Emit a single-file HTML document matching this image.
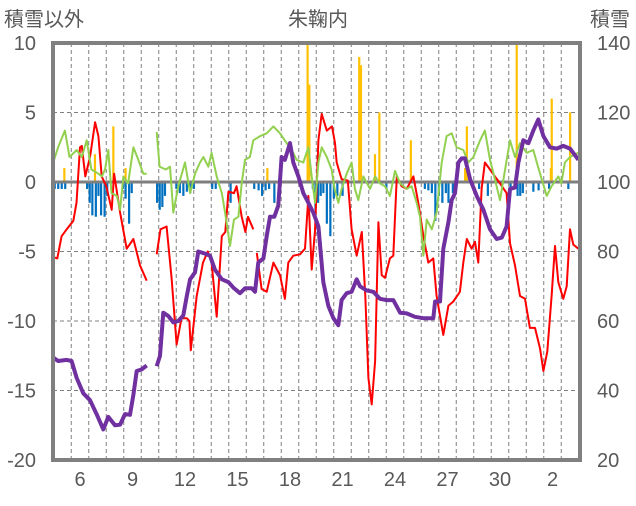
<!DOCTYPE html>
<html><head><meta charset="utf-8"><style>
body{margin:0;background:#fff;width:636px;height:501px;overflow:hidden}
svg text{font-family:"Liberation Sans","Noto Sans CJK JP",sans-serif;fill:#595959}
</style></head><body>
<svg id="c" width="636" height="501"></svg>
<script>
const redT=[4.47,4.7,4.95,5.24,5.62,5.8,6,6.1,6.3,6.57,6.86,7.05,7.24,7.5,7.81,7.95,8.29,8.67,9.05,9.43,9.81,null,10.38,10.6,10.95,11.24,11.52,11.8,12.1,12.25,12.33,12.67,13.03,13.3,13.52,13.81,14.1,14.3,14.48,14.8,14.95,15.24,15.45,15.6,15.9,null,16.1,16.38,16.67,17.05,17.43,17.71,17.9,18.19,18.57,18.86,19.05,19.24,19.43,19.62,19.81,20.1,20.4,20.57,20.67,20.95,21.3,21.52,21.81,22.1,22.3,22.48,22.67,22.86,23.05,23.24,23.43,23.71,23.9,24.1,24.38,24.67,25.05,25.33,25.62,25.9,26.19,26.38,26.76,27.05,27.33,27.71,27.9,28.1,28.38,28.57,28.76,28.95,29.14,29.43,29.71,30,30.38,30.57,30.86,31.14,31.43,31.71,32,32.29,32.48,32.7,32.95,33.14,33.33,33.62,33.81,34,34.19,34.48];
const redV=[-5.4,-5.5,-3.9,-3.4,-2.8,-1.5,2.5,2.6,0.4,1.8,4.3,3.3,0.4,-0.3,-2,0.6,-2.2,-4.8,-4.1,-6,-7.1,null,-5.2,-3.4,-3.2,-7,-11.7,-9.8,-9.8,-10,-12.1,-8.2,-5.8,-5,-5.8,-9.7,-3.9,-3.6,-0.7,-0.8,-0.3,-2.5,-3.6,-2.5,-3.4,null,-5.1,-7.7,-7.9,-5.8,-6.7,-8.4,-5.8,-5.3,-5.2,-4.8,-1,-6.3,-3.5,3,4.9,3.7,4,2.8,1.4,0.2,0.1,-3.4,-5.3,-3.6,-8.2,-14.1,-16,-12.9,-2.9,-6.7,-6.9,-5.5,-5.3,0.4,-0.3,-0.5,0.4,-1.5,-3.9,-5.8,-5.5,-8.2,-11,-8.9,-8.6,-7.9,-5.8,-4.1,-4.8,-4.3,-5.8,-0.5,1.4,0.9,0.4,-0.1,-0.8,-4.4,-6,-8.2,-8.4,-10.5,-10.5,-12,-13.6,-12.2,-8.2,-4.6,-7.2,-8.4,-7.5,-3.4,-4.5,-4.8];
const greenT=[4.47,4.75,5.14,5.4,5.81,6.1,6.38,6.65,7.05,7.25,7.43,7.62,7.8,8.1,8.29,8.48,8.75,9.05,9.33,9.62,9.81,null,10.38,10.55,10.9,11.14,11.33,11.62,12,12.29,12.57,12.86,13.05,13.33,13.52,13.81,14.1,14.29,14.57,14.8,15.05,15.24,15.43,15.71,15.9,16.29,16.67,17.05,17.43,17.81,18.1,18.38,18.76,19.05,19.24,19.43,19.62,19.81,20.1,20.38,20.55,20.76,20.95,21.24,21.52,21.71,21.9,22.19,22.57,22.86,23.14,23.43,23.71,24,24.29,24.67,24.95,25.24,25.43,25.62,25.81,26.1,26.38,26.67,26.95,27.24,27.52,27.9,28.19,28.48,28.86,29.14,29.43,29.71,30,30.29,30.57,30.86,31.14,31.52,31.9,32.1,32.38,32.67,32.95,33.33,33.5,33.71,34,34.48];
const greenV=[1.4,2.5,3.7,1.8,2.3,1.8,3,0.9,0.6,0.4,0.9,2.3,-0.8,-1,-2,0.4,-0.1,2.5,1.6,0.6,0.6,null,3.6,1.1,0.9,1.1,-2.2,-0.3,1.4,-0.8,0.6,1.4,1.8,1.1,2.1,0.4,-0.8,-2.2,-4.6,-2.7,-2.5,-0.1,1.6,1.8,3,3.3,3.5,4,3.5,2.8,2.3,1.6,1.4,2.5,0.4,-1.5,1.4,2.5,1.8,0.9,-0.5,-1.5,-0.5,0.6,1.4,-0.5,-1.3,0.4,-0.5,0.4,-0.1,-0.3,-1,0.8,-0.1,-0.5,-0.3,-1.5,-2.5,-5.3,-2.7,-3.4,-2.2,1.4,3.3,3.5,2.5,2.3,1.4,1.8,3,3.7,1.6,0.2,-1.3,0.9,3,1.8,2.8,2.1,2.3,1.4,0.2,-1,-0.3,0.4,-0.1,1.4,1.8,2.1];
const snowT=[4.47,4.75,5.24,5.52,5.81,6.19,6.57,6.95,7.33,7.62,8,8.29,8.57,8.86,9.05,9.24,9.5,9.81,null,10.38,10.57,10.76,11.05,11.33,11.62,11.9,12.1,12.29,12.57,12.76,13.14,13.43,13.71,14.1,14.48,14.76,15.14,15.43,15.81,16,16.19,16.48,16.67,16.86,17.1,17.33,17.52,17.71,18,18.19,18.48,18.76,19.05,19.33,19.62,19.9,20.19,20.48,20.76,20.95,21.24,21.52,21.81,22,22.38,22.76,23.14,23.52,23.9,24.29,24.67,25.14,25.62,26.19,26.29,26.57,26.76,27.05,27.24,27.43,27.62,27.81,28,28.29,28.67,29.05,29.43,29.81,30.1,30.38,30.57,30.86,31.05,31.33,31.62,31.9,32.19,32.48,32.86,33.24,33.62,34,34.48];
const snowV=[49.5,48.5,48.8,48.5,43.6,39.2,37.2,33.2,28.8,32.4,30,30.2,33.2,33,38.8,45.6,46,47.2,null,47,50,62.4,61.4,59.6,60,61.6,67.2,72,74,80,79.4,78.8,74.8,72,71.2,69.6,68,69.4,69.4,68.4,76.8,78,84.4,90,90,93.2,107.2,106.4,111.2,105.6,101.6,96.8,94,91.2,87.2,71.2,64.4,60.8,58.8,66,68,68.4,72,70,68.8,68.4,66.4,66,66,62.4,62.2,61.2,60.8,60.8,65.6,65.6,80.8,88.4,94.8,96.8,105.6,106.8,106.8,100.8,96,92,86.4,83.6,84,87.2,98,98.4,105.6,112,111.2,114.8,118,113.2,110,109.6,110.4,109.6,106.4];
const blueT=[4.55,4.75,4.95,5.15,6.4,6.55,6.7,6.9,7.05,7.2,7.4,7.55,8.45,8.6,8.8,8.95,10.4,10.55,10.7,10.85,11.5,11.7,11.9,12.1,12.3,12.5,13.55,13.75,14.6,15.95,16.2,16.4,16.6,16.8,17.1,19.3,19.45,19.6,19.75,19.9,20.1,20.3,20.5,20.7,21,23.5,25.7,25.9,26.1,26.3,26.5,26.7,26.9,27.05,27.3,28.8,29.3,30.6,31,31.15,31.3,31.9,32.2,32.8,33.9];
const blueV=[-0.5,-0.5,-0.5,-0.5,-0.5,-1.5,-2.4,-2.5,-1,-2.4,-2.5,-1,-0.5,-1.2,-3,-0.8,-1.5,-2,-1.8,-1,-0.5,-0.8,-1,-0.7,-0.8,-0.5,-0.5,-0.5,-1.5,-0.5,-0.6,-1,-0.6,-0.5,-1.5,-0.5,-2,-1.5,-1,-0.8,-3,-3.9,-1.2,-1,-1,-0.5,-0.5,-0.6,-0.8,-2.8,-1,-1.5,-0.8,-1.5,-0.8,-0.5,-1,-0.5,-1,-1,-0.8,-0.7,-0.6,-0.5,-0.5];
const orangeT=[5.1,6.85,7.9,8.6,16.7,19,19.1,21.95,22.05,22.85,23.1,24.9,28,28.1,30.95,32.9,32.95,34];
const orangeV=[1,2,4,1,1,10,7,9,8.4,2,5,3,1,4,10,1,6,5];
const leftTicks=[10,5,0,-5,-10,-15,-20];
const rightTicks=[140,120,100,80,60,40,20];
const xLabels=["6","9","12","15","18","21","24","27","30","2"];
const xLabelDays=[6,9,12,15,18,21,24,27,30,33];

const NS="http://www.w3.org/2000/svg",svg=document.getElementById('c');
const X0=53,X1=580,Y0=43,Y1=460;
const xs=t=>80+(t-6)*17.5;
const yl=v=>182+(0-v)*(Y1-Y0)/30;
const yr=v=>Y0+(140-v)*(Y1-Y0)/120;
function el(tag,a){const e=document.createElementNS(NS,tag);for(const k in a)e.setAttribute(k,a[k]);svg.appendChild(e);return e;}
// grid
for(const v of leftTicks){if(v===10||v===-20||v===0)continue;
 const g=el('line',{x1:X0,x2:X1,y1:yl(v),y2:yl(v),stroke:'#808080','stroke-dasharray':'4,3','stroke-width':1});
 
 }
for(let d=5;d<=34;d++){const x=xs(d+0.5);if(x<=X0+2||x>=X1-2)continue;
 const g=el('line',{x1:x,x2:x,y1:Y0,y2:Y1,stroke:'#808080','stroke-dasharray':'4,3','stroke-width':1});
 
 }
// bars
function bars(T,V,color,name){for(let i=0;i<T.length;i++){const y=yl(V[i]),y0=yl(0);
 const r=el('rect',{x:xs(T[i])-1,y:Math.min(y,y0),width:2.2,height:Math.abs(y-y0),fill:color});
 
 }}
bars(orangeT,orangeV,'#FFC000','snowfall-bar');
bars(blueT,blueV,'#0070C0','snow-decrease-bar');
// zero line
const z=el('line',{x1:X0,x2:X1,y1:yl(0),y2:yl(0),stroke:'#7f7f7f','stroke-width':3});


function line(T,V,fy,color,w,name){let d='',m=true;
 for(let i=0;i<T.length;i++){if(T[i]===null){m=true;continue;}d+=(m?'M':'L')+xs(T[i]).toFixed(1)+','+fy(V[i]).toFixed(1);m=false;}
 const p=el('path',{d:d,fill:'none',stroke:color,'stroke-width':w,'stroke-linejoin':'round'});
 
 }
line(redT,redV,yl,'#FF0000',2,'red-line');
line(greenT,greenV,yl,'#92D050',2,'green-line');
line(snowT,snowV,yr,'#7030A0',4,'snow-depth-line');
// frame
const f=el('rect',{x:X0,y:Y0,width:X1-X0,height:Y1-Y0,fill:'none',stroke:'#808080','stroke-width':4});


function txt(s,x,y,anchor,name){const t=el('text',{x:x,y:y,'text-anchor':anchor,'font-size':20});t.textContent=s;
 
 }
leftTicks.forEach(v=>txt(String(v),36,yl(v)+7,'end','left-tick-label'));
rightTicks.forEach(v=>txt(String(v),597,yr(v)+7,'start','right-tick-label'));
xLabels.forEach((s,i)=>txt(s,xs(xLabelDays[i]),486,'middle','x-tick-label'));
txt('積雪以外',4,26,'start','left-axis-title');
txt('朱鞠内',318,26,'middle','chart-title');
txt('積雪',590,26,'start','right-axis-title');
</script>
</body></html>
